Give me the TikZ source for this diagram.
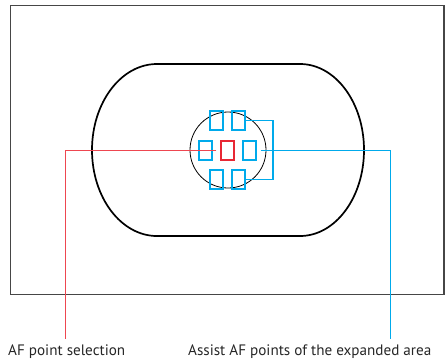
\documentclass[tikz,border=0pt]{standalone}
\usepackage{fontspec}
\setmainfont{PT Sans}
\usetikzlibrary{calc}

\definecolor{afred}{RGB}{232,40,52}
\definecolor{afredline}{RGB}{238,70,80}
\definecolor{afblue}{RGB}{0,170,235}
\definecolor{framegray}{RGB}{70,70,70}

\tikzset{
  afbox/.style={draw,rectangle,minimum width=13bp,minimum height=19bp,inner sep=0pt,line width=1.4bp},
  selline/.style={color=afredline,line width=1.3bp},
  assistline/.style={color=afblue,line width=1.3bp},
  caption/.style={anchor=base west,inner sep=0pt,font=\fontsize{15.2}{18}\selectfont,text=black!85}
}

\begin{document}
\begin{tikzpicture}[x=1bp,y=-1bp]
\useasboundingbox (0,0) rectangle (445,361);
\draw[draw=framegray,line width=1.1bp] (10.5,5.5) rectangle (444,294.5);
\draw[line width=1.7bp] (157,64) -- (300,64) arc[start angle=-90,end angle=90,x radius=64,y radius=86]
  -- (157,236) arc[start angle=90,end angle=270,x radius=65,y radius=86] -- cycle;
\node[draw,circle,minimum size=76bp,inner sep=0pt,line width=0.8bp] (ring) at (228,150) {};
% the AF points
\node[afbox,draw=afred] (sel) at (227.5,150.5) {};
\node[afbox,draw=afblue] (al) at (205.5,150.5) {};
\node[afbox,draw=afblue] (ar) at (249.5,150.5) {};
\node[afbox,draw=afblue] (atl) at (216.5,120.5) {};
\node[afbox,draw=afblue] (atr) at (238.5,120.5) {};
\node[afbox,draw=afblue] (abl) at (216.5,179.5) {};
\node[afbox,draw=afblue] (abr) at (238.5,179.5) {};
\draw[assistline] (atr.east) -| (273,150.5) |- (abr.east);
% the labels
\node[caption] (lblsel) at (8,355.5) {AF point selection};
\node[caption] (lblassist) at (188,355.5) {Assist AF points of the expanded area};
\coordinate (selend) at (65.5,339);
\coordinate (assistend) at (390.5,339);
\draw[selline] ([xshift=-4bp]sel.west) -| (selend);
\draw[assistline] ([xshift=4bp]ar.east) -| (assistend);
\end{tikzpicture}
\end{document}
